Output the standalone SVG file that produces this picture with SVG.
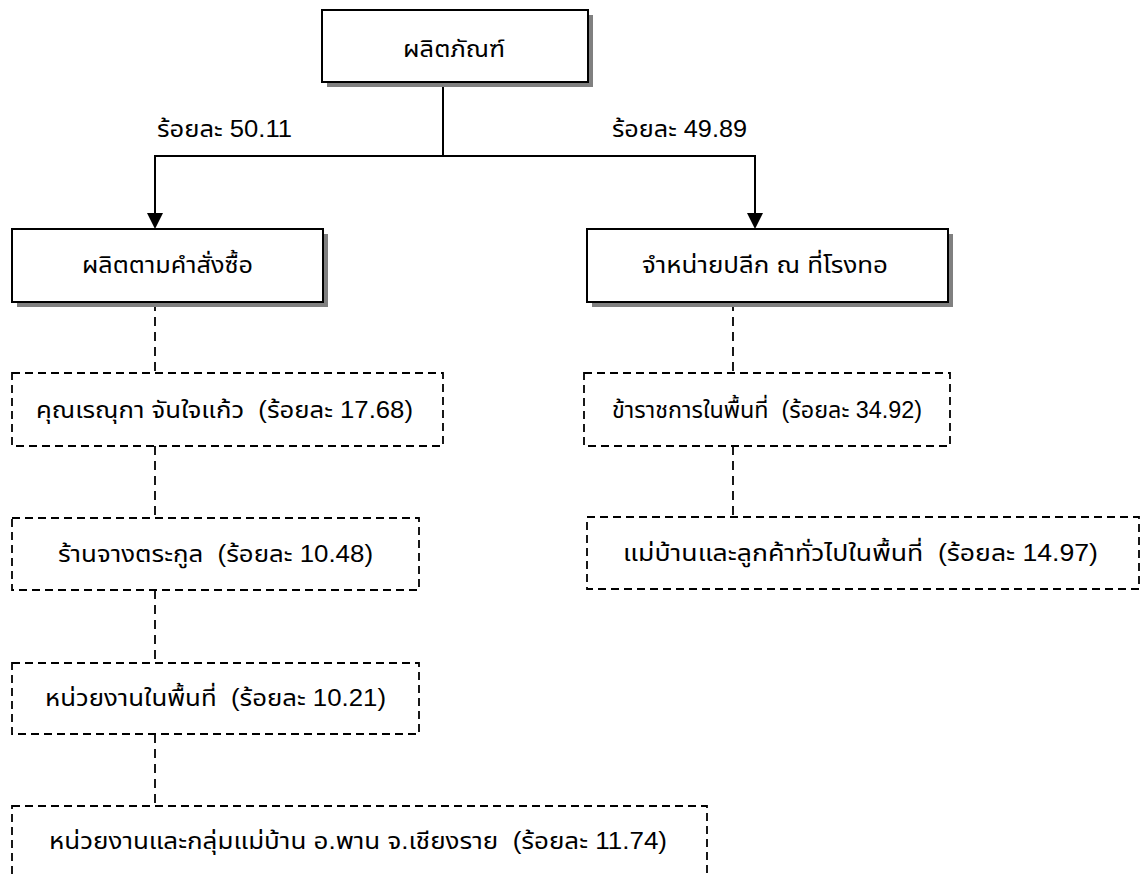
<svg xmlns="http://www.w3.org/2000/svg" width="1143" height="876" viewBox="0 0 1143 876">
<style>
text{font-family:"Liberation Sans","Noto Sans Thai","Noto Sans",sans-serif;font-size:23px;fill:#000;white-space:pre}
.solid{fill:#fff;stroke:#000;stroke-width:2}
.shadow{fill:#808080;stroke:none}
.dash{fill:#fff;stroke:#000;stroke-width:1.8;stroke-dasharray:8 5}
.line{fill:none;stroke:#000;stroke-width:2}
.dline{fill:none;stroke:#000;stroke-width:1.8;stroke-dasharray:9 6}
</style>
<rect width="1143" height="876" fill="#fff"/>
<g id="connectors">
<path class="line" d="M443,82 V156"/>
<path class="line" d="M155,156 H755"/>
<path class="line" d="M155,155 V214"/>
<path class="line" d="M755,155 V214"/>
<path d="M147,213 L163,213 L155,229 Z" fill="#000"/>
<path d="M747,213 L763,213 L755,229 Z" fill="#000"/>
<path class="dline" d="M155,302 V373"/>
<path class="dline" d="M155,446 V518"/>
<path class="dline" d="M155,590 V663"/>
<path class="dline" d="M155,734 V806"/>
<path class="dline" d="M733,302 V373"/>
<path class="dline" d="M733,446 V517"/>
</g>
<g id="label-left"><text x="157" y="137" textLength="135" lengthAdjust="spacingAndGlyphs">ร้อยละ 50.11</text></g>
<g id="label-right"><text x="612" y="137" textLength="135" lengthAdjust="spacingAndGlyphs">ร้อยละ 49.89</text></g>
<g id="n-product">
<rect class="shadow" x="327" y="15" width="266" height="72"/>
<rect class="solid" x="322" y="10" width="266" height="72"/>
<text x="403" y="57" textLength="102" lengthAdjust="spacingAndGlyphs">ผลิตภัณฑ์</text>
</g>
<g id="n-order">
<rect class="shadow" x="17" y="234" width="311" height="73"/>
<rect class="solid" x="12" y="229" width="311" height="73"/>
<text x="82" y="273" textLength="171" lengthAdjust="spacingAndGlyphs">ผลิตตามคำสั่งซื้อ</text>
</g>
<g id="n-retail">
<rect class="shadow" x="592" y="234" width="361" height="73"/>
<rect class="solid" x="587" y="229" width="361" height="73"/>
<text x="642" y="273" textLength="246" lengthAdjust="spacingAndGlyphs">จำหน่ายปลีก ณ ที่โรงทอ</text>
</g>
<g id="n-renuka">
<rect class="dash" x="12" y="373" width="431" height="73"/>
<text x="36" y="418" textLength="377" lengthAdjust="spacingAndGlyphs">คุณเรณุกา จันใจแก้ว  (ร้อยละ 17.68)</text>
</g>
<g id="n-jang">
<rect class="dash" x="12" y="518" width="407" height="72"/>
<text x="58" y="562" textLength="315" lengthAdjust="spacingAndGlyphs">ร้านจางตระกูล  (ร้อยละ 10.48)</text>
</g>
<g id="n-unit">
<rect class="dash" x="12" y="663" width="407" height="71"/>
<text x="45" y="706" textLength="341" lengthAdjust="spacingAndGlyphs">หน่วยงานในพื้นที่  (ร้อยละ 10.21)</text>
</g>
<g id="n-group">
<rect class="dash" x="12" y="806" width="695" height="80"/>
<text x="49" y="849" textLength="618" lengthAdjust="spacingAndGlyphs">หน่วยงานและกลุ่มแม่บ้าน อ.พาน จ.เชียงราย  (ร้อยละ 11.74)</text>
</g>
<g id="n-official">
<rect class="dash" x="584" y="373" width="366" height="73"/>
<text x="612" y="418" textLength="310" lengthAdjust="spacingAndGlyphs">ข้าราชการในพื้นที่  (ร้อยละ 34.92)</text>
</g>
<g id="n-housewife">
<rect class="dash" x="587" y="517" width="552" height="72"/>
<text x="623" y="561" textLength="475" lengthAdjust="spacingAndGlyphs">แม่บ้านและลูกค้าทั่วไปในพื้นที่  (ร้อยละ 14.97)</text>
</g>
</svg>
